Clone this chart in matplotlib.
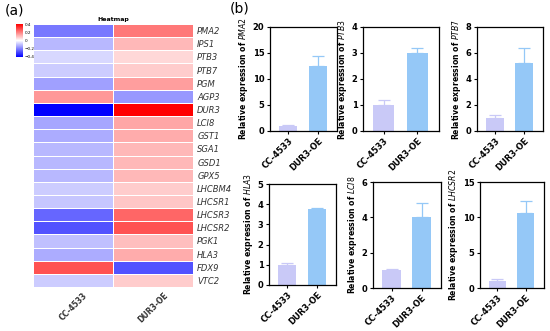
import numpy as np
import matplotlib.pyplot as plt

# heatmap data (row-scaled values)
genes = ['PMA2', 'IPS1', 'PTB3', 'PTB7', 'PGM', 'AGP3', 'DUR3', 'LCI8', 'GST1', 'SGA1',
         'GSD1', 'GPX5', 'LHCBM4', 'LHCSR1', 'LHCSR3', 'LHCSR2', 'PGK1', 'HLA3', 'FDX9', 'VTC2']
strains = ['CC-4533', 'DUR3-OE']
cc4533_z = [-0.21, -0.11, -0.06, -0.08, -0.15, 0.16, -0.45, -0.14, -0.13, -0.11,
            -0.11, -0.11, -0.08, -0.09, -0.24, -0.27, -0.10, -0.13, 0.27, -0.08]
dur3oe_z = [0.21, 0.11, 0.06, 0.08, 0.15, -0.16, 0.45, 0.14, 0.13, 0.11,
            0.11, 0.11, 0.08, 0.09, 0.24, 0.27, 0.10, 0.13, -0.27, 0.08]

# qPCR bars: gene, mean values, error, y max, y step
bar_genes = ['PMA2', 'PTB3', 'PTB7', 'HLA3', 'LCI8', 'LHCSR2']
bar_means = [[1.0, 12.5], [1.0, 3.0], [1.0, 5.2], [1.0, 3.75], [1.0, 4.0], [1.0, 10.6]]
bar_errs = [[0.1, 2.0], [0.2, 0.2], [0.2, 1.2], [0.1, 0.05], [0.05, 0.8], [0.3, 1.7]]
bar_ymax = [20, 4, 8, 5, 6, 15]
bar_ystep = [5, 1, 2, 1, 2, 5]

bar_colors = ['#c9c9f7', '#95c8f7']

W, H = 550, 331
fig = plt.figure(figsize=(W / 100, H / 100), dpi=100)


def px_axes(x0, y0, x1, y1):
    return fig.add_axes([x0 / W, 1 - y1 / H, (x1 - x0) / W, (y1 - y0) / H])


# ---- heatmap ----
ax = px_axes(33, 24, 193, 287)
data = np.array([cc4533_z, dur3oe_z]).T
mesh = ax.pcolormesh(data, cmap='bwr', vmin=-0.4, vmax=0.4, edgecolors='white', linewidth=0.6)
ax.set_xlim(0, 2)
ax.set_ylim(len(genes), 0)
ax.set_yticks(np.arange(len(genes)) + 0.5)
ax.set_yticklabels(genes, fontsize=6, style='italic', color='#333333')
ax.yaxis.tick_right()
ax.set_xticks([0.5, 1.5])
ax.set_xticklabels(strains, fontsize=5.5, fontweight='bold', rotation=45,
                   ha='center', va='top', color='#333333')
ax.tick_params(length=0, pad=3)
for s in ax.spines.values():
    s.set_visible(False)
ax.set_title('Heatmap', fontsize=4.5, fontweight='bold', pad=2)

cax = px_axes(16, 24, 23, 57)
cb = fig.colorbar(mesh, cax=cax, ticks=[-0.4, -0.2, 0, 0.2, 0.4])
cb.ax.set_yticklabels(['\u22120.4', '\u22120.2', '0', '0.2', '0.4'])
cb.ax.tick_params(labelsize=3, length=0, pad=1)
cb.outline.set_visible(False)

# ---- bar panels ----
boxes = [(270, 27, 337, 131), (363, 27, 439, 131), (477, 27, 543, 131),
         (269, 184, 336, 285), (373, 182, 441, 288), (480, 182, 544, 288)]

for i, g in enumerate(bar_genes):
    bx = px_axes(*boxes[i])
    xs = np.arange(2)
    bx.bar(xs, bar_means[i], width=0.62, color=bar_colors)
    for x, m, e, c in zip(xs, bar_means[i], bar_errs[i], bar_colors):
        bx.errorbar(x, m, yerr=[[0], [e]], fmt='none', ecolor=c, elinewidth=0.9, capsize=4, capthick=0.9)
    bx.set_xlim(-0.62, 1.65)
    bx.set_ylim(0, bar_ymax[i])
    bx.set_yticks(np.arange(0, bar_ymax[i] + 0.01, bar_ystep[i]))
    bx.set_xticks(xs)
    bx.set_xticklabels(strains, rotation=45, ha='right', rotation_mode='anchor',
                       fontsize=5.5, fontweight='bold')
    for lab in bx.get_yticklabels():
        lab.set_fontweight('bold')
    bx.tick_params(labelsize=6, length=2.5, width=0.8, pad=1.5)
    bx.set_ylabel('Relative expression of $\\it{' + g + '}$', fontsize=5.6, fontweight='bold', labelpad=2)
    for s in bx.spines.values():
        s.set_linewidth(0.9)

fig.text(5 / W, 1 - 11 / H, '(a)', fontsize=10, va='center')
fig.text(230 / W, 1 - 8 / H, '(b)', fontsize=10, va='center')

fig.savefig('out.png', dpi=100)
